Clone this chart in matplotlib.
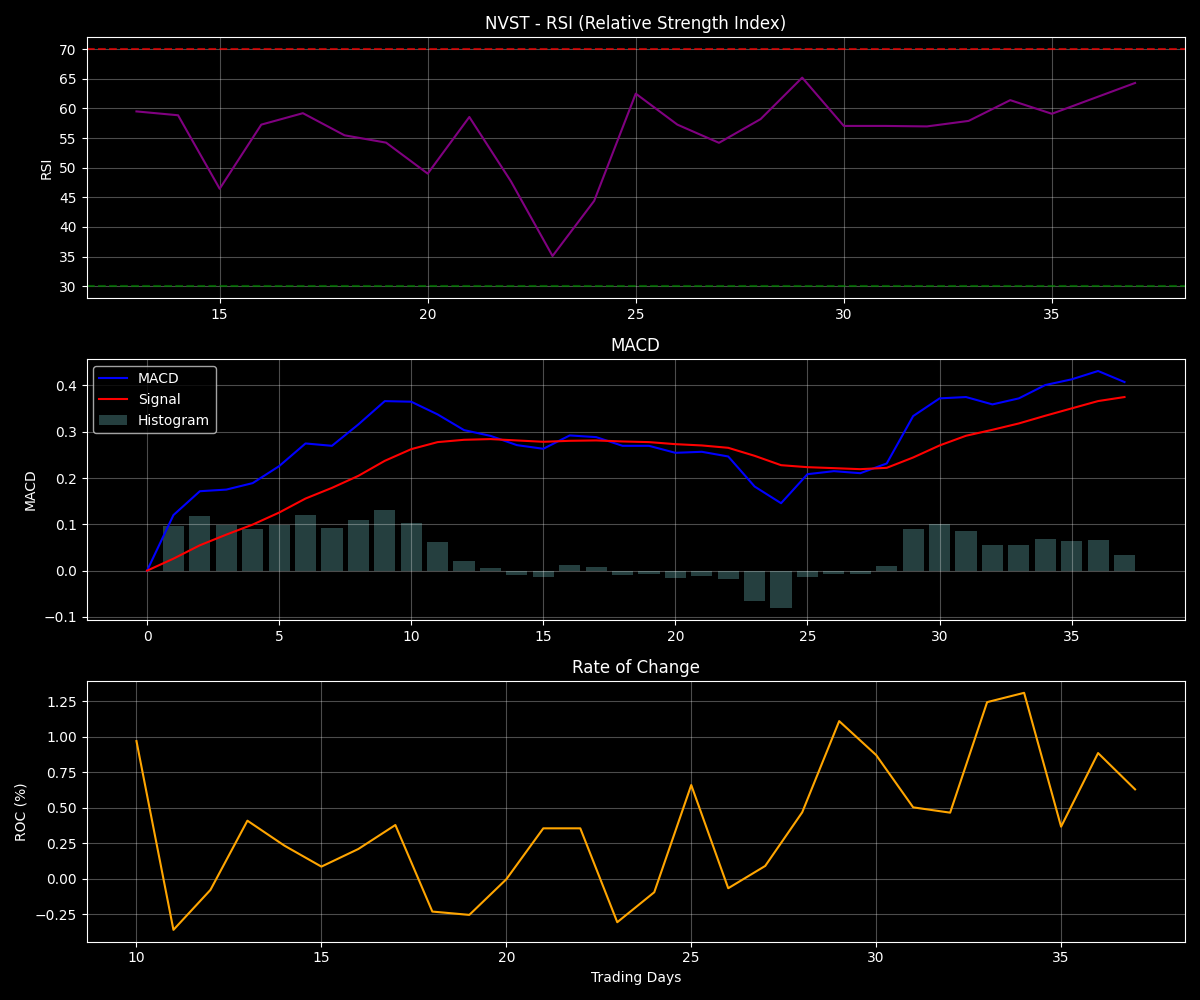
import matplotlib
matplotlib.use("Agg")
import matplotlib.pyplot as plt
import numpy as np

plt.style.use("dark_background")

# RSI (days 13..37)
rsi_days = list(range(13, 38))
rsi_values = [59.5, 58.85, 46.45, 57.27, 59.2, 55.47, 54.23, 49.0, 58.56, 47.7,
              35.1, 44.4, 62.5, 57.27, 54.2, 58.2, 65.2, 57.05, 57.05, 56.97,
              57.9, 61.4, 59.1, 61.7, 64.3]

# MACD (days 0..37)
macd_days = list(range(0, 38))
macd_values = [0.0, 0.120, 0.1715, 0.175, 0.189, 0.2256, 0.2746, 0.2695, 0.3157, 0.366,
               0.3647, 0.3373, 0.3034, 0.291, 0.271, 0.2631, 0.2919, 0.2883, 0.2695, 0.2695,
               0.2544, 0.2566, 0.2465, 0.1816, 0.1456, 0.2083, 0.2148, 0.2104, 0.2314, 0.3337,
               0.3719, 0.3748, 0.3589, 0.3719, 0.4007, 0.413, 0.431, 0.4072]
signal_values = [0.0, 0.0259, 0.0548, 0.0778, 0.0995, 0.1254, 0.1557, 0.1787, 0.2047, 0.2371,
                 0.2623, 0.2775, 0.2825, 0.284, 0.2811, 0.2782, 0.2803, 0.2811, 0.2789, 0.2775,
                 0.2731, 0.2703, 0.2652, 0.2479, 0.2277, 0.2234, 0.2213, 0.2191, 0.2220, 0.2443,
                 0.2703, 0.2912, 0.3041, 0.3178, 0.3344, 0.3503, 0.3661, 0.3748]
hist_values = [0.0, 0.0959, 0.1175, 0.0995, 0.0894, 0.0995, 0.1196, 0.0915, 0.1088, 0.1304,
               0.1023, 0.0613, 0.0202, 0.005, -0.0101, -0.0144, 0.0115, 0.0072, -0.0101, -0.0072,
               -0.0159, -0.0115, -0.018, -0.0656, -0.0807, -0.0137, -0.0072, -0.0072, 0.0094, 0.0894,
               0.1016, 0.085, 0.0548, 0.0548, 0.0677, 0.0634, 0.0656, 0.0332]

# Rate of change (days 10..37)
roc_days = list(range(10, 38))
roc_values = [0.9707, -0.3603, -0.0786, 0.4096, 0.2336, 0.0857, 0.21, 0.379, -0.2312, -0.2547,
              -0.0035, 0.3556, 0.3556, -0.3063, -0.095, 0.6608, -0.0669, 0.0904, 0.4683, 1.1115,
              0.8721, 0.5035, 0.466, 1.2453, 1.311, 0.3674, 0.8862, 0.6303]

fig, (ax1, ax2, ax3) = plt.subplots(3, 1, figsize=(12, 10), dpi=100)

ax1.plot(rsi_days, rsi_values, color="purple", linewidth=1.5)
ax1.axhline(70, color="red", linestyle="--", alpha=0.7)
ax1.axhline(30, color="green", linestyle="--", alpha=0.7)
ax1.set_title("NVST - RSI (Relative Strength Index)")
ax1.set_ylabel("RSI")
ax1.grid(True, alpha=0.3)

ax2.plot(macd_days, macd_values, color="blue", label="MACD", linewidth=1.5)
ax2.plot(macd_days, signal_values, color="red", label="Signal", linewidth=1.5)
ax2.bar(macd_days, hist_values, color="darkslategray", alpha=0.8, label="Histogram")
ax2.set_title("MACD")
ax2.set_ylabel("MACD")
ax2.legend(loc="upper left")
ax2.grid(True, alpha=0.3)

ax3.plot(roc_days, roc_values, color="orange", linewidth=1.5)
ax3.set_title("Rate of Change")
ax3.set_ylabel("ROC (%)")
ax3.set_xlabel("Trading Days")
ax3.grid(True, alpha=0.3)

plt.tight_layout()
plt.savefig("out.png", dpi=100)
